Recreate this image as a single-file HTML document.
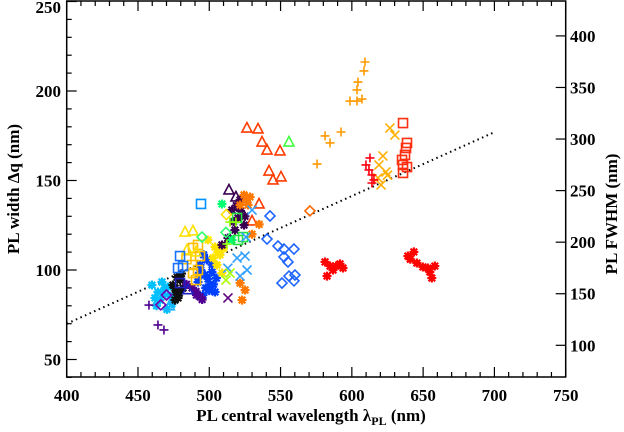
<!DOCTYPE html>
<html><head><meta charset="utf-8"><style>
html,body{margin:0;padding:0;background:#fff;width:624px;height:432px;overflow:hidden}
svg text{font-family:"Liberation Serif",serif;font-weight:bold;fill:#000}
</style></head><body>
<svg id="chart" width="624" height="432" viewBox="0 0 624 432" xmlns="http://www.w3.org/2000/svg">
<g id="grid-axes"></g>
<g id="marks"></g>
<text x="311" y="421" font-size="17" text-anchor="middle">PL central wavelength λ<tspan font-size="12" dy="4">PL</tspan><tspan dy="-4"> (nm)</tspan></text>
<text transform="translate(19,189) rotate(-90)" font-size="17" text-anchor="middle">PL width Δq (nm)</text>
<text transform="translate(617,214) rotate(-90)" font-size="17" text-anchor="middle">PL FWHM (nm)</text>
</svg>
<script>
const xTicks=[400,450,500,550,600,650,700,750];
const yTicks=[50,100,150,200,250];
const fwhmTicks=[100,150,200,250,300,350,400];
const fitLine=[[400,70],[700,177]];

const orangePlusX=[609.2,608.5,604.3,603.6,598.7,603.6,607.1,581.2,584.7,592.4,575.6];
const orangePlusY=[216.2,211.2,205.0,200.6,194.4,194.4,195.5,174.9,171.0,177.1,159.2];
const redSquareX=[635.9,638.7,638.0,637.3,635.2,635.9,638.7,635.9];
const redSquareY=[182.1,171.0,168.2,164.3,161.5,158.7,157.5,154.2];
const goldCrossX=[626.7,630.2,621.8,619.0,623.9,618.3,620.5,625.0];
const goldCrossY=[179.3,175.4,163.7,158.7,154.8,151.4,147.5,153.0];
const redPlusX=[612.7,609.9,612.0,614.1,615.5,614.1];
const redPlusY=[162.6,158.7,155.9,153.1,150.3,148.6];
const redStarX=[581.2,584.7,588.9,591.7,586.8,582.6,593.8,639.3,643.5,645.6,649.8,653.3,654.7,658.2,656.1,641.0];
const redStarY=[104.5,102.2,102.2,103.4,100.0,96.6,101.1,107.8,110.1,103.9,101.7,101.1,98.9,102.2,95.5,106.0];
const orangeDiamondX=[570.6];
const orangeDiamondY=[133.0];
const redTriX=[526.4,534.2,537.0,540.5,549.6,541.9,550.3,544.7,534.9,530.0];
const redTriY=[179.3,178.8,171.5,167.0,166.5,155.3,152.0,150.3,136.9,127.4];
const greenTriX=[555.9];
const greenTriY=[171.5];
const blueDiamondX=[542.6,540.5,548.2,552.4,559.4,552.4,555.2,551.0,555.9,560.1,559.4];
const blueDiamondY=[130.2,117.3,113.4,111.7,111.7,107.3,104.5,92.7,96.6,97.2,93.9];
const cyanStarX=[459.8,464.0,465.4,468.9,472.4,461.9,473.8,466.8,470.3,463.0,467.5,471.0];
const cyanStarY=[91.6,87.7,83.2,89.9,85.5,84.4,81.0,93.3,78.0,80.0,86.5,90.5];
const blackStarX=[474.5,476.7,479.5,478.1,481.6,475.9,477.5,480.5,476.0,479.0];
const blackStarY=[91.6,87.7,94.4,84.4,89.9,83.2,96.0,98.0,90.0,87.0];
const blueStarX=[493.5,497.0,500.5,495.6,501.9,498.4,504.0,492.1,499.1,503.0,496.0,494.0,500.0,505.0,497.5,502.0,492.5];
const blueStarY=[102.8,97.2,91.6,86.0,98.9,105.6,87.7,93.3,95.0,92.0,108.5,100.0,88.5,95.5,90.0,103.0,97.0];
const purpleStarX=[490.7,493.5,487.9,495.0,484.0,491.0];
const purpleStarY=[88.0,85.0,90.0,83.5,92.0,86.0];
const purplePlusX=[457.7,464.0,468.2];
const purplePlusY=[80.4,69.3,66.5];
const goldSquareX=[488.6,492.1,493.5,487.9,488.6,492.1,490.7,484.0];
const goldSquareY=[112.3,114.0,107.8,102.8,98.3,100.0,94.4,106.0];
const yellowTriX=[483.0,488.6,484.4,490.7];
const yellowTriY=[121.2,121.8,111.2,110.1];
const yellowStarX=[499.1,504.0,507.5,505.4,502.6,508.9,510.0,506.0];
const yellowStarY=[116.8,112.9,108.4,102.8,106.7,98.3,112.0,110.0];
const darkStarX=[521.6,515.9,520.2,524.4,518.0,513.1,508.9,522.0,517.0,525.0,519.0];
const darkStarY=[139.1,133.5,129.1,125.1,122.3,117.9,114.0,133.0,127.0,130.0,136.0];
const darkTriX=[513.8,518.7];
const darkTriY=[144.7,140.8];
const orangeStarX=[524.4,528.6,527.2,521.6,521.6,525.1,523.0,530.0,535.0,526.0];
const orangeStarY=[141.9,140.8,136.3,136.3,92.7,88.8,83.2,120.0,125.5,139.0];
const greenStarX=[508.9,515.9];
const greenStarY=[136.9,116.8];
const greenSquareX=[519.5,523.7,520.2];
const greenSquareY=[129.1,118.4,116.8];
const limePlusX=[514.5,518.7,512.4];
const limePlusY=[126.8,126.8,114.5];
const lightBlueCrossX=[530.0,525.8,519.5,525.1,526.5,521.6,513.0];
const lightBlueCrossY=[133.5,118.4,106.7,107.8,100.0,96.6,101.0];
const limeCrossX=[511.7,514.5];
const limeCrossY=[94.4,98.3];
const purpleCrossX=[513.1];
const purpleCrossY=[84.4];
const blueSquareX=[494.2];
const blueSquareY=[136.9];
const greenDiamondX=[494.9,511.7];
const greenDiamondY=[118.4,121.0];
const yellowDiamondX=[512.0];
const yellowDiamondY=[131.0];
const indigoSquareX=[479.5];
const indigoSquareY=[92.7];
const azureSquareX=[479.5,481.6,478.1];
const azureSquareY=[107.8,102.2,101.1];
const indigoTriX=[485.0];
const indigoTriY=[89.0];
const azureTriX=[472.0];
const azureTriY=[80.0];
const purpleDiamondX=[470.0,466.0];
const purpleDiamondY=[86.0,80.5];

const seriesX=[orangePlusX,redSquareX,goldCrossX,redPlusX,redStarX,orangeDiamondX,redTriX,greenTriX,blueDiamondX,cyanStarX,blackStarX,blueStarX,purpleStarX,purplePlusX,goldSquareX,yellowTriX,yellowStarX,darkStarX,darkTriX,orangeStarX,greenStarX,greenSquareX,limePlusX,lightBlueCrossX,limeCrossX,purpleCrossX,blueSquareX,greenDiamondX,yellowDiamondX,indigoSquareX,azureSquareX,indigoTriX,azureTriX,purpleDiamondX];
const seriesY=[orangePlusY,redSquareY,goldCrossY,redPlusY,redStarY,orangeDiamondY,redTriY,greenTriY,blueDiamondY,cyanStarY,blackStarY,blueStarY,purpleStarY,purplePlusY,goldSquareY,yellowTriY,yellowStarY,darkStarY,darkTriY,orangeStarY,greenStarY,greenSquareY,limePlusY,lightBlueCrossY,limeCrossY,purpleCrossY,blueSquareY,greenDiamondY,yellowDiamondY,indigoSquareY,azureSquareY,indigoTriY,azureTriY,purpleDiamondY];
const seriesColor=["#ff9a00","#ff3010","#ffb000","#ff0010","#ff0000","#ff6a00","#ff3c00","#40ff40","#1e64ff","#00c0ff","#101010","#0040ff","#500090","#500090","#ffbe00","#ffe000","#ffe400","#3a0050","#3a0050","#ff7800","#00ff70","#20e040","#90ff00","#30a0ff","#a8ff00","#600080","#0090ff","#30ff70","#ffe000","#2020c0","#1870ff","#2020c0","#20b0ff","#7000b0"];
const seriesSymbol=["plus","square","cross","plus","star","diamond","tri","tri","diamond","star","star","star","star","plus","square","tri","star","star","tri","star","star","square","plus","cross","cross","cross","square","diamond","diamond","square","square","tri","tri","diamond"];

const X0=66.7,X1=565.7,Y0=377,Y1=1;
const sx=v=>X0+(v-400)*(X1-X0)/350;
const sy=v=>270-(v-100)*1.79;
const sf=v=>345.3-(v-100)*1.0313;
const NS="http://www.w3.org/2000/svg";
function mk(tag,attrs,parent){const e=document.createElementNS(NS,tag);for(const k in attrs)e.setAttribute(k,attrs[k]);parent.appendChild(e);return e;}
const ax=document.getElementById('grid-axes');
const frame=mk('rect',{x:X0,y:Y1,width:X1-X0,height:Y0-Y1,fill:'none',stroke:'#000','stroke-width':1.5},ax);


for(let v=400;v<=750;v+=10){const maj=v%50===0;const L=maj?10:5;
 const t1=mk('line',{x1:sx(v),x2:sx(v),y1:Y0,y2:Y0-L,stroke:'#000','stroke-width':1.2},ax);
 
 
 const t2=mk('line',{x1:sx(v),x2:sx(v),y1:Y1,y2:Y1+L,stroke:'#000','stroke-width':1.2},ax);
 
 }
xTicks.forEach(v=>{const t=mk('text',{x:sx(v),y:401,'font-size':17,'text-anchor':'middle'},ax);t.textContent=v;
 
 });
for(let v=40;v<=250;v+=10){const maj=v%50===0;const L=maj?10:5;
 const t=mk('line',{x1:X0,x2:X0+L,y1:sy(v),y2:sy(v),stroke:'#000','stroke-width':1.2},ax);
 
 }
yTicks.forEach(v=>{const t=mk('text',{x:61,y:Math.max(sy(v)+6,13),'font-size':17,'text-anchor':'end'},ax);t.textContent=v;
 
 });
fwhmTicks.forEach(v=>{const l=mk('line',{x1:X1,x2:X1-10,y1:sf(v),y2:sf(v),stroke:'#000','stroke-width':1.2},ax);
 
 
 const t=mk('text',{x:570,y:sf(v)+6,'font-size':17},ax);t.textContent=v;
 
 });
const fl=mk('line',{x1:sx(fitLine[0][0]),y1:sy(fitLine[0][1]),x2:sx(fitLine[1][0]),y2:sy(fitLine[1][1]),stroke:'#000','stroke-width':2,'stroke-dasharray':'1.5 3.5'},ax);



const mg=document.getElementById('marks');
function sym(type,x,y,c){const r=4.5,w=1.6;let d;
 if(type==='plus')d=`M${x-r} ${y}H${x+r}M${x} ${y-r}V${y+r}`;
 else if(type==='cross')d=`M${x-r} ${y-r}L${x+r} ${y+r}M${x-r} ${y+r}L${x+r} ${y-r}`;
 else if(type==='star')d=`M${x-r} ${y}H${x+r}M${x} ${y-r}V${y+r}M${x-3.3} ${y-3.3}L${x+3.3} ${y+3.3}M${x-3.3} ${y+3.3}L${x+3.3} ${y-3.3}`;
 else if(type==='square')d=`M${x-r} ${y-r}H${x+r}V${y+r}H${x-r}Z`;
 else if(type==='tri')d=`M${x} ${y-r-1}L${x+r+0.5} ${y+r-0.5}H${x-r-0.5}Z`;
 else d=`M${x} ${y-r-0.5}L${x+r+0.5} ${y}L${x} ${y+r+0.5}L${x-r-0.5} ${y}Z`;
 const p=mk('path',{d:d,fill:'none',stroke:c,'stroke-width':type==='star'?2.2:w},mg);
 return p;}
seriesX.forEach((xs,i)=>{xs.forEach((xv,j)=>{
 const p=sym(seriesSymbol[i],sx(xv),sy(seriesY[i][j]),seriesColor[i]);
 
 });});
</script>
</body></html>
